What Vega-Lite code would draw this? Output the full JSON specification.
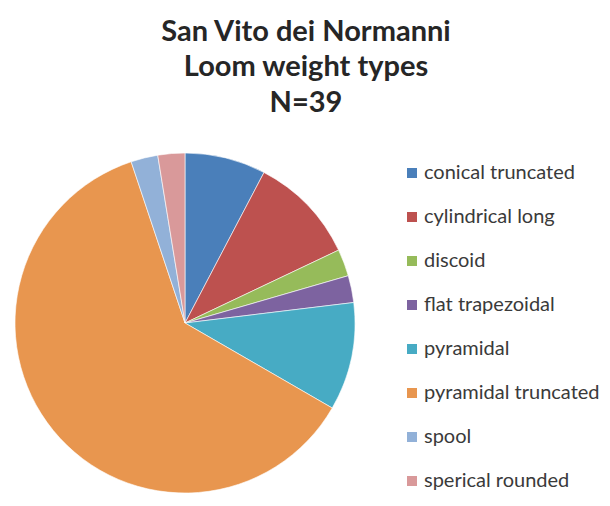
{
  "$schema": "https://vega.github.io/schema/vega-lite/v6.json",
  "width": 340,
  "height": 340,
  "padding": {"left": 13, "top": 17, "right": 5, "bottom": 5},
  "background": "#ffffff",
  "title": {
    "text": ["San Vito dei Normanni", "Loom weight types", "N=39"],
    "anchor": "middle",
    "frame": "group",
    "dx": 121,
    "font": "Lato",
    "fontSize": 29,
    "fontWeight": "bold",
    "color": "#262626",
    "lineHeight": 35.5,
    "offset": 34
  },
  "data": {
    "values": [
      {"type": "conical truncated", "count": 3, "idx": 1},
      {"type": "cylindrical long", "count": 4, "idx": 2},
      {"type": "discoid", "count": 1, "idx": 3},
      {"type": "flat trapezoidal", "count": 1, "idx": 4},
      {"type": "pyramidal", "count": 4, "idx": 5},
      {"type": "pyramidal truncated", "count": 24, "idx": 6},
      {"type": "spool", "count": 1, "idx": 7},
      {"type": "sperical rounded", "count": 1, "idx": 8}
    ]
  },
  "mark": {"type": "arc", "stroke": "#ffffff", "strokeWidth": 0.6},
  "encoding": {
    "theta": {"field": "count", "type": "quantitative", "stack": true},
    "order": {"field": "idx", "type": "quantitative"},
    "color": {
      "field": "type",
      "type": "nominal",
      "sort": ["conical truncated", "cylindrical long", "discoid", "flat trapezoidal", "pyramidal", "pyramidal truncated", "spool", "sperical rounded"],
      "scale": {
        "domain": ["conical truncated", "cylindrical long", "discoid", "flat trapezoidal", "pyramidal", "pyramidal truncated", "spool", "sperical rounded"],
        "range": ["#4a7fba", "#bd514f", "#96bb5a", "#7d63a0", "#47abc4", "#e8964f", "#92b1d8", "#d9999a"]
      },
      "legend": {
        "title": null,
        "orient": "none",
        "legendX": 387,
        "legendY": 10,
        "symbolType": "square",
        "symbolSize": 100,
        "symbolStrokeWidth": 0,
        "labelFont": "Lato",
        "labelFontSize": 20,
        "labelColor": "#3a3a3a",
        "labelOffset": 2,
        "labelLimit": 300,
        "rowPadding": 24
      }
    }
  },
  "config": {"view": {"stroke": null}}
}
